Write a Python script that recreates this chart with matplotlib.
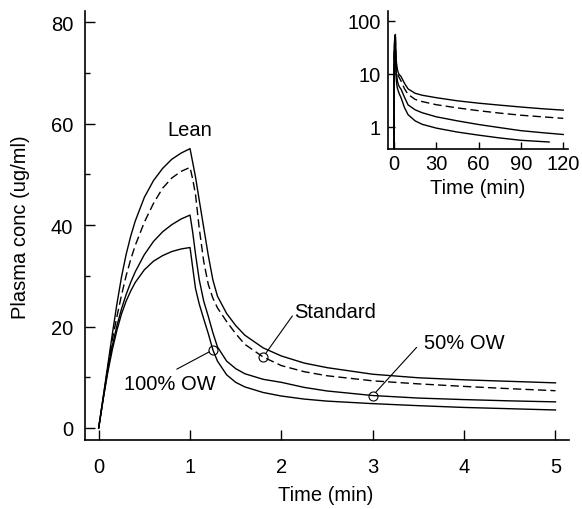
import numpy as np
import matplotlib
matplotlib.use('Agg')
import matplotlib.pyplot as plt

plt.rcParams['font.family'] = ['Liberation Sans', 'DejaVu Sans']
fs = 14.5

# Time points (min) for the main panel
t = [0.0, 0.05, 0.1, 0.15, 0.2, 0.25, 0.3, 0.35, 0.4, 0.5, 0.6, 0.7, 0.8, 0.9, 1.0,
     1.03, 1.06, 1.1, 1.15, 1.2, 1.25, 1.3, 1.4, 1.5, 1.6, 1.8, 2.0,
     2.25, 2.5, 3.0, 3.5, 4.0, 4.5, 5.0]

# Plasma concentrations (ug/ml)
lean     = [0, 6.2, 12.4, 18.6, 24.5, 29.8, 34.2, 37.8, 40.8, 45.5, 48.8, 51.2, 53.0, 54.2, 55.1,
            52.3, 49.5, 45.0, 39.5, 34.0, 29.2, 26.0, 22.6, 20.2, 18.3, 15.8, 14.2,
            12.8, 11.9, 10.6, 9.9, 9.5, 9.2, 8.9]
standard = [0, 6.0, 12.0, 17.5, 22.0, 26.2, 30.0, 33.2, 36.0, 40.6, 44.3, 47.3, 49.3, 50.6, 51.4,
            49.0, 46.0, 39.5, 32.8, 28.3, 25.6, 23.7, 21.0, 18.6, 16.5, 14.0, 12.3,
            11.1, 10.3, 9.3, 8.7, 8.2, 7.75, 7.35]
ow50     = [0, 5.8, 11.5, 16.3, 20.2, 23.5, 26.3, 28.7, 30.8, 34.2, 36.8, 38.7, 40.1, 41.2, 42.0,
            38.5, 34.3, 29.3, 25.0, 22.0, 18.8, 16.0, 13.2, 11.7, 10.7, 9.6, 9.0,
            8.0, 7.3, 6.4, 5.9, 5.6, 5.35, 5.15]
ow100    = [0, 5.8, 11.0, 15.5, 19.3, 22.5, 25.0, 27.0, 28.7, 31.2, 32.9, 34.0, 34.8, 35.3, 35.6,
            31.5, 27.5, 24.5, 21.5, 18.6, 15.4, 13.2, 10.5, 9.0, 8.1, 7.0, 6.3,
            5.7, 5.3, 4.8, 4.4, 4.05, 3.8, 3.55]

# Inset: continuation out to 120 min
t_long        = [7.5, 10, 15, 20, 30, 45, 60, 75, 90, 105, 120]
lean_long     = [6.6, 5.2, 4.3, 3.95, 3.55, 3.1, 2.8, 2.57, 2.37, 2.2, 2.07]
standard_long = [5.2, 4.1, 3.3, 3.0, 2.62, 2.28, 2.02, 1.82, 1.66, 1.55, 1.45]
ow50_long     = [3.6, 2.6, 2.1, 1.85, 1.55, 1.3, 1.11, 0.97, 0.85, 0.78, 0.72]
t_long100     = [7.5, 10, 15, 20, 30, 45, 60, 75, 90, 110]
ow100_long    = [2.3, 1.7, 1.3, 1.12, 0.95, 0.8, 0.70, 0.62, 0.56, 0.52]

fig = plt.figure(figsize=(5.82, 5.10), dpi=100)
ax = fig.add_axes([0.146, 0.135, 0.832, 0.841])

lw = 1.0
dash = (6, 3)
ax.plot(t, lean, 'k-', lw=lw)
ax.plot(t, standard, 'k--', lw=lw, dashes=dash)
ax.plot(t, ow50, 'k-', lw=lw)
ax.plot(t, ow100, 'k-', lw=lw)

# annotation circles
i100 = t.index(1.25)
istd = t.index(1.8)
i50 = t.index(3.0)
for x, y in [(t[i100], ow100[i100]), (t[istd], standard[istd]), (t[i50], ow50[i50])]:
    ax.plot(x, y, 'o', mfc='none', mec='k', ms=6.5, mew=0.8)

ax.annotate('', xy=(t[i100], ow100[i100]), xytext=(0.855, 11.6),
            arrowprops=dict(arrowstyle='-', lw=0.8, shrinkA=0, shrinkB=3))
ax.text(0.78, 8.7, '100% OW', ha='center', va='center', fontsize=fs)
ax.annotate('', xy=(t[istd], standard[istd]), xytext=(2.12, 22.1),
            arrowprops=dict(arrowstyle='-', lw=0.8, shrinkA=0, shrinkB=3))
ax.text(2.14, 22.9, 'Standard', ha='left', va='center', fontsize=fs)
ax.annotate('', xy=(t[i50], ow50[i50]), xytext=(3.48, 15.9),
            arrowprops=dict(arrowstyle='-', lw=0.8, shrinkA=0, shrinkB=3))
ax.text(3.56, 16.9, '50% OW', ha='left', va='center', fontsize=fs)
ax.text(1.0, 58.9, 'Lean', ha='center', va='center', fontsize=fs)

ax.set_xlim(-0.15, 5.15)
ax.set_ylim(-2.4, 82.2)
ax.set_xticks([0, 1, 2, 3, 4, 5])
ax.set_yticks([0, 20, 40, 60, 80])
ax.set_yticks([10, 30, 50, 70], minor=True)
ax.spines['top'].set_visible(False)
ax.spines['right'].set_visible(False)
for s in ['left', 'bottom']:
    ax.spines[s].set_linewidth(1.2)
ax.tick_params(axis='both', which='major', direction='in', length=7, width=1.0, labelsize=fs)
ax.tick_params(axis='x', pad=12)
ax.tick_params(axis='y', pad=8.5)
ax.tick_params(axis='y', which='minor', direction='in', length=3.6, width=1.0)
ax.set_xlabel('Time (min)', fontsize=fs)
ax.set_ylabel('Plasma conc (ug/ml)', fontsize=fs)
ax.xaxis.set_label_coords(0.498, -0.105)
ax.yaxis.set_label_coords(-0.114, 0.5)

# inset, log scale
ins = fig.add_axes([0.666, 0.706, 0.310, 0.271])
ins.plot(t + t_long, lean + lean_long, 'k-', lw=lw)
ins.plot(t + t_long, standard + standard_long, 'k--', lw=lw, dashes=dash)
ins.plot(t + t_long, ow50 + ow50_long, 'k-', lw=lw)
ins.plot(t + t_long100, ow100 + ow100_long, 'k-', lw=lw)
ins.set_yscale('log')
ins.set_xlim(-4.5, 123.4)
ins.set_ylim(0.385, 154)
ins.set_xticks([0, 30, 60, 90, 120])
ins.set_yticks([1, 10, 100])
ins.set_yticklabels(['1', '10', '100'])
ins.yaxis.set_minor_locator(matplotlib.ticker.NullLocator())
ins.spines['top'].set_visible(False)
ins.spines['right'].set_visible(False)
for s in ['left', 'bottom']:
    ins.spines[s].set_linewidth(1.2)
ins.tick_params(axis='both', which='major', direction='in', length=5, width=1.0, labelsize=fs)
ins.tick_params(axis='x', pad=4)
ins.tick_params(axis='y', pad=5)
ins.set_xlabel('Time (min)', fontsize=fs, labelpad=3)

fig.savefig('out.png', dpi=100)
